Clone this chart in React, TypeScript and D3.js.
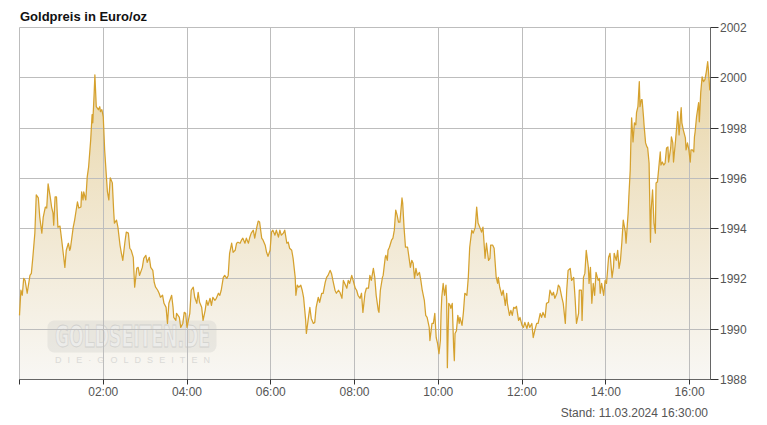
import React from "react";
import * as d3 from "d3";

// minutes after 00:00 (11.03.2024)
const minutes = [
  0, 2, 4, 6, 8, 11, 15, 17, 19, 22,
  24, 27, 29, 32, 34, 37, 39, 41, 44, 46,
  48, 49, 51, 53, 55, 58, 61, 63, 65, 67,
  70, 72, 73, 77, 79, 83, 85, 88, 89, 91,
  92, 95, 97, 99, 102, 104, 105, 107, 108, 110,
  113, 115, 116, 118, 120, 122, 125, 126, 128, 130,
  133, 135, 136, 139, 141, 144, 146, 148, 151, 153,
  156, 158, 160, 163, 165, 168, 170, 172, 176, 178,
  181, 183, 186, 188, 191, 193, 195, 198, 200, 202,
  205, 207, 210, 212, 214, 218, 220, 221, 224, 225,
  227, 229, 231, 234, 236, 238, 240, 242, 244, 246,
  249, 251, 254, 256, 258, 261, 263, 266, 268, 270,
  273, 275, 277, 280, 282, 285, 287, 289, 292, 294,
  297, 299, 301, 304, 306, 309, 311, 313, 316, 318,
  320, 323, 325, 328, 330, 332, 335, 337, 340, 342,
  344, 347, 349, 352, 354, 356, 359, 361, 363, 366,
  368, 371, 373, 375, 378, 380, 383, 385, 387, 390,
  392, 395, 396, 398, 400, 403, 405, 407, 410, 411,
  414, 416, 418, 421, 423, 425, 428, 430, 433, 435,
  438, 440, 442, 445, 447, 449, 452, 454, 457, 459,
  462, 464, 466, 469, 471, 473, 476, 478, 481, 483,
  485, 488, 490, 492, 495, 497, 500, 502, 504, 507,
  509, 511, 514, 515, 517, 520, 521, 524, 525, 527,
  528, 530, 533, 535, 537, 539, 541, 543, 545, 548,
  549, 551, 553, 556, 557, 560, 562, 564, 566, 568,
  570, 573, 575, 577, 580, 582, 584, 587, 588, 591,
  593, 595, 597, 599, 601, 603, 604, 605, 607, 609,
  611, 612, 613, 615, 617, 618, 620, 622, 623, 624,
  626, 628, 630, 631, 634, 636, 638, 641, 643, 645,
  648, 650, 653, 655, 657, 660, 662, 664, 666, 667,
  669, 672, 674, 675, 678, 680, 683, 685, 686, 688,
  691, 693, 696, 698, 699, 702, 704, 706, 708, 710,
  712, 715, 717, 720, 722, 724, 727, 729, 731, 734,
  736, 739, 741, 743, 746, 748, 750, 753, 755, 758,
  760, 763, 765, 767, 770, 772, 774, 777, 779, 782,
  784, 786, 789, 791, 794, 796, 798, 801, 802, 805,
  806, 808, 810, 812, 815, 816, 818, 820, 822, 824,
  826, 829, 831, 832, 834, 837, 839, 841, 844, 846,
  849, 851, 852, 855, 857, 859, 861, 863, 865, 868,
  869, 872, 873, 875, 876, 877, 879, 881, 883, 884,
  886, 888, 889, 891, 892, 894, 895, 897, 899, 900,
  902, 904, 905, 907, 909, 911, 912, 914, 916, 918,
  919, 921, 923, 925, 927, 929, 930, 933, 934, 936,
  937, 940, 942, 943, 945, 948, 949, 951, 954, 955,
  957, 959, 961, 962, 964, 966, 967, 968, 970, 973,
  974, 976, 978, 980, 982, 984, 986, 987, 989,
];

// Gold price in Euro/oz
const prices = [
  1990.55, 1991.55, 1991.35, 1992.02, 1991.94, 1991.43, 1992.14, 1992.22, 1992.82, 1993.82,
  1995.34, 1995.22, 1994.46, 1993.82, 1994.46, 1994.86, 1994.82, 1995.78, 1995.26, 1994.86,
  1994.62, 1994.14, 1995.26, 1995.26, 1994.06, 1994.10, 1993.42, 1992.94, 1992.46, 1993.14,
  1993.42, 1993.14, 1993.22, 1994.06, 1994.34, 1995.06, 1994.82, 1994.86, 1995.46, 1995.14,
  1995.46, 1995.14, 1996.05, 1996.45, 1997.53, 1998.53, 1998.21, 1999.41, 2000.12, 1998.85,
  1998.73, 1998.85, 1998.65, 1998.73, 1998.45, 1997.13, 1995.86, 1995.46, 1995.14, 1996.02,
  1995.82, 1994.66, 1994.22, 1994.34, 1994.06, 1993.34, 1993.02, 1992.74, 1993.46, 1993.86,
  1993.82, 1993.22, 1993.14, 1992.86, 1991.67, 1992.42, 1992.46, 1992.14, 1992.46, 1992.82,
  1992.94, 1992.66, 1992.86, 1992.46, 1992.34, 1991.86, 1991.67, 1991.55, 1991.43, 1991.27,
  1991.35, 1991.03, 1990.87, 1990.23, 1991.03, 1991.35, 1990.87, 1990.47, 1990.35, 1990.63,
  1990.55, 1990.47, 1990.07, 1990.23, 1990.67, 1990.63, 1990.07, 1990.35, 1990.63, 1991.55,
  1991.67, 1991.27, 1991.03, 1991.47, 1991.07, 1990.87, 1990.35, 1990.75, 1991.15, 1990.95,
  1991.23, 1990.95, 1991.27, 1991.15, 1991.23, 1991.43, 1991.35, 1991.55, 1992.06, 1992.14,
  1992.02, 1992.14, 1993.02, 1993.42, 1993.06, 1993.14, 1993.42, 1993.46, 1993.42, 1993.54,
  1993.62, 1993.42, 1993.62, 1993.42, 1993.66, 1993.82, 1993.94, 1993.62, 1994.06, 1994.30,
  1994.26, 1993.62, 1993.54, 1993.34, 1993.06, 1992.90, 1993.14, 1993.86, 1993.94, 1993.74,
  1993.94, 1993.66, 1993.94, 1993.74, 1993.82, 1993.94, 1993.42, 1993.46, 1993.22, 1993.14,
  1992.82, 1992.06, 1991.35, 1991.75, 1991.67, 1991.75, 1991.55, 1991.27, 1990.35, 1989.83,
  1990.47, 1990.87, 1990.43, 1990.23, 1990.27, 1990.87, 1991.27, 1991.07, 1991.43, 1991.43,
  1991.86, 1992.06, 1992.14, 1992.34, 1992.22, 1991.94, 1991.55, 1991.43, 1991.55, 1991.47,
  1991.23, 1991.94, 1991.82, 1991.63, 1991.94, 1991.82, 1992.14, 1991.94, 1991.63, 1991.55,
  1991.35, 1991.23, 1991.43, 1990.67, 1991.43, 1991.63, 1991.63, 1992.14, 1991.94, 1992.42,
  1992.06, 1991.35, 1990.75, 1990.67, 1991.55, 1992.06, 1992.14, 1992.86, 1992.94, 1992.74,
  1993.14, 1993.26, 1993.54, 1993.62, 1993.94, 1994.74, 1994.54, 1994.26, 1994.26, 1995.22,
  1995.02, 1994.02, 1993.26, 1993.26, 1993.06, 1992.46, 1992.74, 1992.62, 1992.02, 1992.42,
  1992.14, 1992.26, 1991.94, 1991.55, 1991.15, 1990.55, 1990.47, 1990.07, 1989.55, 1990.23,
  1990.23, 1990.63, 1989.67, 1989.43, 1989.03, 1989.55, 1990.63, 1991.27, 1991.82, 1991.35,
  1991.75, 1991.15, 1988.47, 1991.03, 1990.95, 1990.83, 1991.03, 1989.27, 1988.75, 1989.83,
  1989.94, 1990.55, 1990.23, 1990.47, 1990.15, 1990.67, 1991.43, 1991.35, 1992.06, 1993.26,
  1993.94, 1993.82, 1994.06, 1994.86, 1994.22, 1994.02, 1993.86, 1994.06, 1993.26, 1992.82,
  1993.42, 1992.74, 1992.82, 1993.34, 1993.34, 1993.22, 1992.06, 1991.82, 1992.06, 1991.67,
  1991.35, 1991.55, 1990.95, 1991.43, 1991.03, 1990.55, 1990.75, 1990.55, 1990.87, 1990.83,
  1990.91, 1990.35, 1990.47, 1990.15, 1990.07, 1990.27, 1990.03, 1990.27, 1990.07, 1990.23,
  1989.67, 1990.03, 1990.23, 1990.23, 1990.63, 1990.47, 1990.67, 1990.47, 1991.03, 1991.07,
  1991.55, 1991.35, 1991.47, 1991.23, 1991.43, 1991.75, 1991.67, 1991.27, 1991.03, 1990.23,
  1991.55, 1992.34, 1992.42, 1991.94, 1992.06, 1991.23, 1990.23, 1990.63, 1991.55, 1991.55,
  1990.35, 1992.06, 1992.22, 1993.14, 1992.46, 1991.82, 1992.46, 1991.03, 1991.82, 1991.35,
  1992.26, 1991.94, 1992.02, 1991.43, 1991.82, 1991.35, 1991.94, 1991.82, 1992.86, 1993.02,
  1992.06, 1992.46, 1993.02, 1992.74, 1993.14, 1992.42, 1992.74, 1993.46, 1994.34, 1993.86,
  1993.42, 1994.62, 1995.26, 1996.33, 1997.53, 1998.41, 1997.45, 1998.21, 1998.13, 1998.61,
  1998.85, 1999.85, 1998.85, 1999.13, 1999.13, 1998.45, 1998.05, 1997.41, 1997.25, 1997.21,
  1996.61, 1993.46, 1994.74, 1995.54, 1994.22, 1993.82, 1995.82, 1995.86, 1996.45, 1997.05,
  1996.53, 1996.65, 1996.53, 1996.61, 1997.21, 1997.25, 1996.65, 1997.21, 1997.65, 1997.41,
  1996.65, 1997.53, 1998.21, 1998.65, 1997.73, 1998.81, 1998.21, 1997.93, 1997.61, 1997.13,
  1997.41, 1997.13, 1996.65, 1997.13, 1997.13, 1997.05, 1997.65, 1997.85, 1998.45, 1999.01,
  1998.25, 1999.41, 2000.04, 1999.85, 1999.93, 2000.24, 2000.64, 2000.32, 1999.5,
];

const xTickMinutes = [120, 240, 360, 480, 600, 720, 840, 960];
const xTickLabels = ["02:00", "04:00", "06:00", "08:00", "10:00", "12:00", "14:00", "16:00"];
const yTicks = [1988, 1990, 1992, 1994, 1996, 1998, 2000, 2002];

const title = "Goldpreis in Euro/oz";
const footer = "Stand: 11.03.2024 16:30:00";

const W = 767;
const H = 425;
const LEFT = 19.5;
const RIGHT = 710.5;
const TOP = 27.5;
const BOTTOM = 379.5;

const FONT = "Arial, 'Liberation Sans', Helvetica, sans-serif";

export default function App() {
  const data = minutes.map((m, i) => ({ m, p: prices[i] }));
  const x = d3.scaleLinear().domain([0, 990]).range([LEFT, RIGHT]);
  const y = d3.scaleLinear().domain([1988, 2002]).range([BOTTOM, TOP]);

  const area = d3
    .area<{ m: number; p: number }>()
    .x((d) => x(d.m))
    .y0(BOTTOM)
    .y1((d) => y(d.p));
  const line = d3
    .line<{ m: number; p: number }>()
    .x((d) => x(d.m))
    .y((d) => y(d.p));

  const px = (v: number) => Math.round(v - 0.5) + 0.5;

  return (
    <svg
      width={W}
      height={H}
      style={{ position: "absolute", left: 0, top: 0, display: "block", background: "#fff" }}
    >
      <defs>
        <linearGradient id="goldFill" gradientUnits="userSpaceOnUse" x1="0" y1={TOP} x2="0" y2={BOTTOM}>
          <stop offset="0" stopColor="#e7d29f" />
          <stop offset="0.5" stopColor="#f0e5cb" />
          <stop offset="1" stopColor="#f8f7f4" />
        </linearGradient>
      </defs>

      <text x={20} y={20.5} fontFamily={FONT} fontSize={13} fontWeight="bold" fill="#111">
        {title}
      </text>

      <path d={area(data) || ""} fill="url(#goldFill)" />

      {/* watermark */}
      <g opacity={0.85}>
        <rect x={47.5} y={320.5} width={169} height={32} rx={7} fill="#dcdad6" opacity={0.6} />
        <text
          x={55}
          y={347}
          fontFamily="'DejaVu Sans Condensed', 'DejaVu Sans', sans-serif"
          fontWeight="bold"
          fontSize={31}
          textLength={155}
          lengthAdjust="spacingAndGlyphs"
          fill="#ebebea"
          stroke="#cbcbc9"
          strokeWidth={0.8}
        >
          GOLDSEITEN.DE
        </text>
        <text
          x={55}
          y={363}
          fontFamily={FONT}
          fontSize={9}
          textLength={155}
          lengthAdjust="spacing"
          fill="#d6d6d4"
        >
          DIE·GOLDSEITEN
        </text>
      </g>

      {/* grid */}
      {yTicks.map((t) => (
        <line key={"gy" + t} x1={LEFT} x2={RIGHT} y1={px(y(t))} y2={px(y(t))} stroke="#bdbdbd" strokeWidth={1} />
      ))}
      {[0, ...xTickMinutes].map((t) => (
        <line key={"gx" + t} x1={px(x(t))} x2={px(x(t))} y1={TOP} y2={BOTTOM} stroke="#bdbdbd" strokeWidth={1} />
      ))}

      <path d={line(data) || ""} fill="none" stroke="#d5a12e" strokeWidth={1.25} strokeLinejoin="round" />

      {/* bottom axis */}
      <line x1={LEFT} x2={RIGHT} y1={BOTTOM} y2={BOTTOM} stroke="#666" strokeWidth={1} />
      {[0, ...xTickMinutes].map((t) => (
        <line key={"tx" + t} x1={px(x(t))} x2={px(x(t))} y1={BOTTOM} y2={BOTTOM + 5} stroke="#333" strokeWidth={1} />
      ))}
      {xTickMinutes.map((t, i) => (
        <text
          key={"lx" + t}
          x={x(t)}
          y={396}
          textAnchor="middle"
          fontFamily={FONT}
          fontSize={12}
          fill="#555"
        >
          {xTickLabels[i]}
        </text>
      ))}

      {/* right axis */}
      <line x1={RIGHT} x2={RIGHT} y1={TOP} y2={BOTTOM} stroke="#666" strokeWidth={1} />
      {yTicks.map((t) => (
        <line key={"ty" + t} x1={RIGHT} x2={RIGHT + 8} y1={px(y(t))} y2={px(y(t))} stroke="#333" strokeWidth={1} />
      ))}
      {yTicks.map((t) => (
        <text key={"ly" + t} x={720} y={y(t) + 4.5} fontFamily={FONT} fontSize={12} fill="#555">
          {t}
        </text>
      ))}

      <text x={708} y={417} textAnchor="end" fontFamily={FONT} fontSize={12} fill="#555">
        {footer}
      </text>
    </svg>
  );
}
